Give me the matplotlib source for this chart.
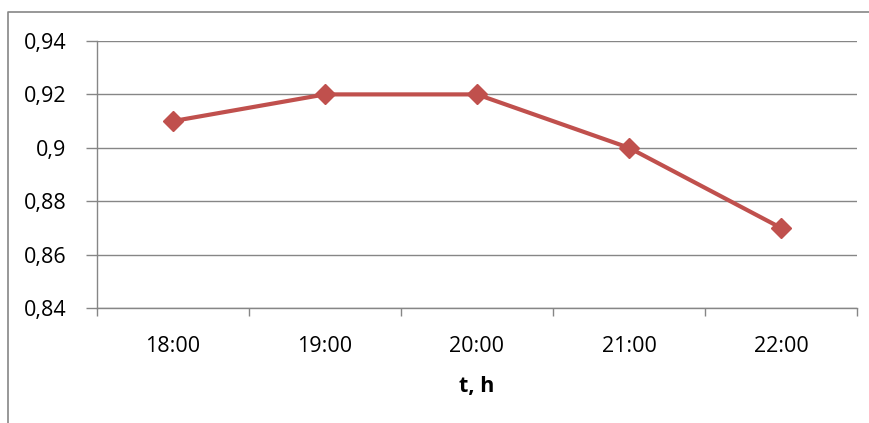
import matplotlib.pyplot as plt
from matplotlib.lines import Line2D

hours = ["18:00", "19:00", "20:00", "21:00", "22:00"]
values = [0.91, 0.92, 0.92, 0.90, 0.87]
yticks = [0.84, 0.86, 0.88, 0.90, 0.92, 0.94]
ylabels = ["0,84", "0,86", "0,88", "0,9", "0,92", "0,94"]

GRAY = "#868686"
RED = "#C0504D"

plt.rcParams["font.family"] = ["Open Sans", "DejaVu Sans"]

fig = plt.figure(figsize=(8.7, 4.23), dpi=100)
ax = fig.add_axes([97 / 870, 1 - 308 / 423, 760 / 870, 267 / 423])

x = list(range(len(hours)))
ax.plot(x, values, color=RED, lw=3, marker="D", ms=10, mec=RED, mfc=RED, zorder=3)

ax.set_xlim(-0.5, len(hours) - 0.5)
ax.set_ylim(0.84, 0.94)
ax.set_yticks(yticks)
ax.set_yticklabels(ylabels, fontsize=15.5)
ax.grid(axis="y", color=GRAY, lw=1)
ax.set_axisbelow(True)

# ticks between categories, labels centred on categories
ax.set_xticks([i - 0.5 for i in range(len(hours) + 1)])
ax.set_xticklabels([])
ax.set_xticks(x, minor=True)
ax.set_xticklabels(hours, minor=True, fontsize=15.5)
ax.tick_params(axis="x", which="major", length=6, color=GRAY, width=1)
ax.tick_params(axis="x", which="minor", length=0, pad=20)
ax.tick_params(axis="y", length=8, color=GRAY, width=1, pad=14)

for s in ["top", "right"]:
    ax.spines[s].set_visible(False)
for s in ["left", "bottom"]:
    ax.spines[s].set_color(GRAY)
    ax.spines[s].set_linewidth(1)

ax.set_xlabel("t, h", fontsize=15.5, fontweight="bold", labelpad=14)

# chart frame
fig.add_artist(Line2D([8 / 870, 8 / 870, 1.0], [0.0, 1 - 12 / 423, 1 - 12 / 423],
                      transform=fig.transFigure, color=GRAY, lw=1.2))

fig.savefig("out.png", dpi=100)
